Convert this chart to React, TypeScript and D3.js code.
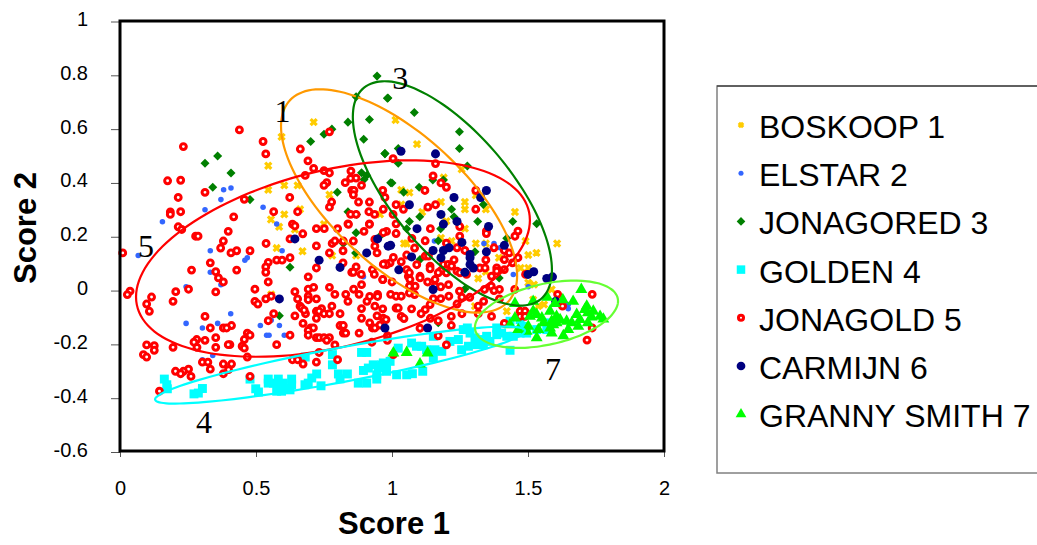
import * as d3 from "d3";
import { useEffect, useRef } from "react";

type P = [number, number];

const xTicks = [0, 0.5, 1, 1.5, 2];
const yTicks = [-0.6, -0.4, -0.2, 0, 0.2, 0.4, 0.6, 0.8, 1];

const boskoop: P[] = [
  [0.712, 0.626], [0.594, 0.571], [0.545, 0.464], [0.545, 0.374], [0.604, 0.391], [0.653, 0.391], [0.77, 0.356],
  [0.662, 0.302], [0.604, 0.283], [0.555, 0.264], [0.585, 0.237], [0.75, 0.247], [0.956, 0.283],
  [1.013, 0.634], [1.092, 0.544], [1.19, 0.42], [1.034, 0.374], [1.064, 0.364], [1.256, 0.451], [1.308, 0.354],
  [1.18, 0.329], [1.268, 0.329], [1.268, 0.302], [1.345, 0.302], [1.452, 0.292], [1.111, 0.292], [1.2, 0.258],
  [1.268, 0.23], [1.219, 0.184], [1.044, 0.175], [1.054, 0.175], [1.18, 0.196], [1.308, 0.175], [1.345, 0.175],
  [1.491, 0.184], [1.607, 0.175], [1.531, 0.14], [1.501, 0.132], [1.393, 0.122], [1.473, 0.084], [1.501, 0.084],
  [1.317, 0.045], [1.345, 0.07], [1.034, 0.32], [0.576, 0.158], [0.671, 0.146], [0.78, 0.13], [0.868, 0.13],
  [0.556, -0.014], [0.643, 0.227], [1.501, 0.029], [1.522, 0.022], [1.587, 0.004], [1.538, -0.058], [1.559, -0.052],
  [1.422, -0.077], [1.305, -0.058], [1.519, -0.034],
];

const elstar: P[] = [
  [0.381, 0.375], [0.408, 0.381], [0.371, 0.338], [0.3125, 0.3], [0.156, 0.256], [0.526, 0.31], [0.576, 0.247],
  [0.332, 0.148], [0.067, 0.13], [0.596, 0.148], [0.459, 0.113], [0.468, 0.122], [0.332, 0.068], [0.362, 0.053],
  [0.371, 0.022], [0.243, 0.014], [0.407, -0.086], [0.243, -0.122], [0.359, -0.122], [0.303, -0.139], [0.516, -0.13],
  [0.556, -0.11], [0.586, -0.13], [0.539, -0.166], [0.548, -0.166], [0.604, -0.166], [0.341, -0.241], [0.303, -0.257],
  [0.722, 0.084], [0.895, 0.051], [1.338, 0.175], [1.375, 0.175], [1.397, 0.159], [1.446, 0.06], [1.156, 0.184],
  [1.501, 0.014], [1.648, -0.052], [1.648, -0.068],
];

const jonagored: P[] = [
  [0.945, 0.797], [0.868, 0.72], [0.983, 0.715], [0.838, 0.626], [0.917, 0.636], [0.779, 0.6], [0.75, 0.581],
  [0.701, 0.554], [0.896, 0.562], [0.974, 0.509], [0.3125, 0.473], [0.359, 0.5], [0.408, 0.437], [0.341, 0.384],
  [0.478, 0.338], [0.799, 0.365], [0.888, 0.438], [0.907, 0.428], [0.897, 0.413], [1.0, 0.4], [0.838, 0.293], [0.87, 0.283],
  [0.985, 0.716], [1.082, 0.662], [1.248, 0.59], [1.248, 0.528], [1.277, 0.463], [0.974, 0.509], [1.023, 0.528],
  [1.023, 0.473], [0.995, 0.401], [1.043, 0.365], [1.1, 0.384], [1.15, 0.411], [1.189, 0.411], [1.336, 0.32],
  [1.219, 0.302], [1.102, 0.274], [1.064, 0.257], [1.228, 0.274], [1.315, 0.257], [1.444, 0.257], [1.532, 0.248],
  [1.054, 0.23], [1.179, 0.23], [1.17, 0.185], [1.422, 0.194], [1.305, 0.144], [1.103, 0.115], [1.413, 0.115],
  [1.394, 0.047], [0.625, 0.087], [0.586, -0.094], [0.866, 0.14], [0.821, 0.175], [0.868, 0.215], [0.962, 0.208],
  [1.268, 0.006], [1.17, -0.12],
];

const golden: P[] = [
  [0.163, -0.329], [0.172, -0.35], [0.174, -0.365], [0.272, -0.384], [0.288, -0.381], [0.303, -0.364], [0.478, -0.329],
  [0.499, -0.365], [0.509, -0.377], [0.545, -0.329], [0.545, -0.344], [0.564, -0.344], [0.582, -0.329], [0.582, -0.35],
  [0.576, -0.374], [0.6, -0.344], [0.594, -0.374], [0.613, -0.363], [0.631, -0.329], [0.631, -0.35], [0.625, -0.369],
  [0.68, -0.35], [0.692, -0.344], [0.705, -0.325], [0.723, -0.31], [0.739, -0.354], [0.803, -0.31], [0.809, -0.328],
  [0.836, -0.31], [0.876, -0.344], [0.907, -0.344], [0.895, -0.297], [0.913, -0.288], [0.931, -0.276], [0.95, -0.288],
  [0.944, -0.313], [0.944, -0.329], [0.968, -0.269], [0.98, -0.288], [0.681, -0.247], [0.781, -0.238], [0.781, -0.276],
  [0.888, -0.23], [0.907, -0.23], [0.962, -0.276], [0.993, -0.263], [0.98, -0.3], [1.017, -0.313], [1.054, -0.313],
  [1.075, -0.309], [1.113, -0.3], [1.023, -0.214], [1.072, -0.195], [1.09, -0.207], [1.109, -0.207], [1.127, -0.22],
  [1.14, -0.226], [1.158, -0.22], [1.183, -0.226], [1.152, -0.251], [1.213, -0.189], [1.244, -0.182], [1.256, -0.22],
  [1.281, -0.207], [1.311, -0.201], [1.336, -0.201], [1.277, -0.139], [1.287, -0.158], [1.305, -0.176], [1.323, -0.182],
  [1.348, -0.17], [1.36, -0.189], [1.385, -0.139], [1.385, -0.164], [1.403, -0.158], [1.422, -0.17], [1.446, -0.17],
  [1.471, -0.158], [1.434, -0.222], [1.434, -0.114], [1.483, -0.133], [1.495, -0.158], [1.471, -0.108], [1.532, -0.145],
  [1.569, -0.145], [1.581, -0.12], [1.152, -0.17], [1.262, -0.145], [0.956, -0.283],
];

const jonagold: P[] = [
  [0.439, 0.597], [0.233, 0.535], [0.526, 0.554], [0.536, 0.508], [0.663, 0.526], [0.691, 0.482], [0.712, 0.454],
  [0.681, 0.428], [0.75, 0.446], [0.77, 0.437], [0.77, 0.59], [0.175, 0.408], [0.223, 0.41], [0.3125, 0.365],
  [0.214, 0.346], [0.457, 0.339], [0.624, 0.346], [0.185, 0.292], [0.185, 0.283], [0.223, 0.293], [0.418, 0.274],
  [0.565, 0.293], [0.653, 0.293], [0.214, 0.237], [0.634, 0.247], [0.643, 0.24], [0.849, 0.444], [0.828, 0.401],
  [0.848, 0.417], [0.868, 0.418], [0.888, 0.391], [0.76, 0.401], [0.75, 0.391], [0.852, 0.372], [0.86, 0.372],
  [0.858, 0.356], [0.778, 0.329], [0.77, 0.31], [0.877, 0.329], [0.917, 0.329], [0.915, 0.293], [0.936, 0.283],
  [0.848, 0.283], [0.868, 0.283], [0.838, 0.248], [0.917, 0.248], [0.966, 0.372], [0.974, 0.346],
  [0.01, 0.14], [0.227, 0.227], [0.278, 0.202], [0.287, 0.202], [0.398, 0.22], [0.38, 0.184], [0.37, 0.158],
  [0.408, 0.14], [0.429, 0.148], [0.478, 0.148], [0.332, 0.103], [0.263, 0.076], [0.429, 0.076], [0.352, 0.07],
  [0.362, 0.047], [0.38, 0.032], [0.352, -0.005], [0.252, 0.005], [0.205, -0.004], [0.195, -0.04], [0.116, -0.024],
  [0.098, -0.05], [0.108, -0.077], [0.037, -0.002], [0.027, -0.015], [0.537, 0.175], [0.545, 0.105], [0.536, 0.088],
  [0.536, 0.068], [0.576, 0.113], [0.596, 0.113], [0.625, 0.122], [0.545, 0.032], [0.496, 0.005], [0.496, -0.04],
  [0.507, -0.05], [0.536, -0.031], [0.556, -0.021], [0.565, -0.086], [0.545, -0.112], [0.3125, -0.096], [0.332, -0.139],
  [0.41, -0.13], [0.38, -0.139], [0.392, -0.139], [0.468, -0.158], [0.478, -0.166], [0.457, -0.182], [0.449, -0.207],
  [0.457, -0.214], [0.404, -0.201], [0.398, -0.201], [0.352, -0.175], [0.352, -0.211], [0.3125, -0.185], [0.282, -0.182],
  [0.272, -0.192], [0.283, -0.211], [0.195, -0.211], [0.126, -0.205], [0.126, -0.222], [0.098, -0.202], [0.086, -0.238],
  [0.098, -0.247], [0.468, -0.247], [0.303, -0.266], [0.323, -0.266], [0.332, -0.292], [0.38, -0.273], [0.41, -0.273],
  [0.399, -0.294], [0.38, -0.309], [0.252, -0.292], [0.233, -0.3], [0.204, -0.3], [0.223, -0.309], [0.261, -0.319],
  [0.145, -0.374], [0.478, -0.319], [0.576, -0.201], [0.625, -0.166], [0.634, -0.257], [0.653, -0.257], [0.673, -0.273],
  [0.722, -0.266], [0.732, -0.23], [0.8, -0.257], [0.79, -0.202], [0.926, -0.192], [0.879, -0.158], [0.643, -0.094],
  [0.673, -0.122], [0.682, -0.086], [0.662, -0.058], [0.668, -0.065], [0.677, -0.073], [0.653, -0.031], [0.643, -0.004],
  [0.692, -0.021], [0.692, -0.034], [0.692, 0.005], [0.712, 0.012], [0.722, -0.031], [0.77, 0.012], [0.79, -0.014],
  [0.83, -0.014], [0.838, -0.04], [0.859, 0.005], [0.879, -0.014], [0.888, 0.022], [0.908, -0.04], [0.918, -0.022],
  [0.947, -0.014], [0.947, -0.022], [0.937, -0.058], [0.888, -0.067], [0.888, -0.103], [0.918, -0.12], [0.945, -0.094],
  [0.968, -0.103], [0.978, -0.108], [0.928, -0.139], [0.937, -0.139], [0.956, -0.128], [0.722, -0.103], [0.722, -0.077],
  [0.741, -0.067], [0.732, -0.077], [0.75, -0.086], [0.77, -0.086], [0.779, -0.058], [0.809, -0.086], [0.701, -0.139],
  [0.711, -0.139], [0.692, -0.148], [0.692, -0.166], [0.722, -0.175], [0.733, -0.175], [0.75, -0.175], [0.77, -0.175],
  [0.76, -0.185], [0.809, -0.13], [0.821, -0.13], [0.821, -0.158], [0.83, -0.158], [0.692, 0.051], [0.722, 0.084],
  [0.722, 0.166], [0.77, 0.14], [0.78, 0.175], [0.79, 0.184], [0.821, 0.184], [0.82, 0.148], [0.82, 0.103], [0.84, 0.246],
  [0.722, 0.23], [0.751, 0.23], [0.672, 0.211], [0.625, 0.192], [0.8, 0.23], [0.897, 0.22], [0.917, 0.246], [0.858, 0.184],
  [0.945, 0.14], [0.928, 0.078], [0.935, 0.06], [0.887, 0.06], [0.868, 0.088], [0.852, 0.068], [0.858, 0.068],
  [0.966, 0.041], [0.937, 0.19], [0.937, 0.165], [0.974, 0.1],
  [1.004, 0.49], [1.16, 0.472], [1.151, 0.426], [1.18, 0.4], [1.2, 0.384], [1.121, 0.372], [1.308, 0.372], [1.015, 0.319],
  [1.042, 0.302], [1.132, 0.31], [1.16, 0.319], [1.308, 0.302], [1.004, 0.283], [0.968, 0.302], [1.015, 0.248],
  [1.141, 0.23], [1.015, 0.212], [0.98, 0.22], [0.968, 0.215], [1.249, 0.238], [1.249, 0.202], [1.347, 0.221],
  [1.347, 0.212], [1.463, 0.221], [1.452, 0.202], [1.073, 0.194], [1.122, 0.185], [1.083, 0.158], [1.2, 0.176],
  [1.239, 0.159], [1.268, 0.149], [1.375, 0.159], [1.413, 0.149], [1.431, 0.14], [1.054, 0.132], [1.005, 0.123],
  [1.034, 0.107], [0.993, 0.103], [0.98, 0.096], [0.968, 0.098], [1.054, 0.078], [1.091, 0.096], [1.122, 0.128],
  [1.134, 0.128], [1.228, 0.114], [1.189, 0.097], [1.207, 0.097], [1.219, 0.091], [1.14, 0.091], [1.14, 0.081],
  [1.18, 0.074], [1.2, 0.066], [1.239, 0.072], [1.25, 0.066], [1.274, 0.06], [1.345, 0.114], [1.385, 0.084], [1.385, 0.072],
  [1.413, 0.078], [1.413, 0.115], [1.443, 0.103], [1.463, 0.122], [1.491, 0.06], [1.366, 0.053], [1.06, 0.053],
  [1.103, 0.053], [1.323, 0.084], [1.342, 0.084],
  [0.966, 0.041], [1.0, 0.032], [1.064, 0.066], [1.103, 0.047], [1.066, 0.041], [1.085, 0.016], [1.064, 0.016],
  [1.131, 0.032], [1.17, 0.066], [1.158, 0.041], [1.158, 0.016], [1.179, 0.014], [1.208, 0.022], [1.248, -0.002],
  [1.209, -0.021], [1.179, -0.03], [1.152, -0.03], [1.083, -0.015], [1.064, -0.009], [0.995, -0.014], [1.015, -0.021],
  [1.034, -0.021], [1.015, -0.065], [1.023, -0.065], [0.966, -0.068], [1.072, -0.068], [1.034, -0.096], [1.044, -0.104],
  [1.14, -0.052], [1.122, -0.071], [1.107, -0.086], [1.141, -0.103], [1.17, -0.112], [1.218, -0.096], [1.218, -0.13],
  [1.103, -0.14], [1.257, -0.086], [1.239, -0.05], [1.317, -0.058], [1.317, -0.086], [1.337, -0.04], [1.366, -0.096],
  [1.395, 0.004], [1.395, -0.031], [1.34, 0.004], [1.365, 0.016], [1.375, 0], [1.286, -0.025], [1.257, -0.025],
  [1.451, 0.004], [1.471, -0.077], [1.489, -0.077], [1.471, -0.096], [1.489, -0.096], [1.413, -0.122], [1.609, -0.014],
  [1.627, -0.058], [1.736, -0.014], [1.736, -0.139], [1.717, -0.184], [1.17, -0.168], [1.2, -0.202], [1.005, -0.238],
  [0.983, -0.168], [0.983, -0.185],
];

const carmijn: P[] = [
  [1.033, 0.518], [1.16, 0.508], [1.347, 0.372], [1.326, 0.346], [1.228, 0.346], [1.064, 0.319], [1.18, 0.283],
  [1.239, 0.257], [1.189, 0.247], [1.355, 0.238], [1.092, 0.23], [0.995, 0.168], [1.151, 0.149], [1.189, 0.149],
  [1.21, 0.159], [1.257, 0.179], [1.413, 0.168], [1.347, 0.144], [1.287, 0.134], [1.287, 0.122], [1.072, 0.125],
  [1.18, 0.122], [1.287, 0.097], [1.299, 0.084], [1.268, 0.068], [1.025, 0.077], [1.5, 0.06], [1.521, 0.07],
  [1.569, 0.045], [1.59, 0.051], [1.151, 0.004], [0.974, -0.139], [1.131, -0.139], [1.602, -0.04], [0.643, 0.192],
  [0.732, 0.113], [0.809, 0.086], [0.907, 0.14], [0.947, 0.192], [0.986, 0.165], [0.586, -0.031],
];

const grannySmith: P[] = [
  [1.696, 0.004], [1.452, -0.048], [1.519, -0.04], [1.571, -0.025], [1.599, -0.048], [1.628, -0.034], [1.666, -0.04],
  [1.716, -0.058], [1.581, -0.077], [1.519, -0.077], [1.532, -0.089], [1.507, -0.096], [1.551, -0.102], [1.557, -0.12],
  [1.452, -0.102], [1.434, -0.127], [1.464, -0.145], [1.501, -0.133], [1.495, -0.151], [1.538, -0.145], [1.532, -0.176],
  [1.587, -0.114], [1.605, -0.096], [1.618, -0.108], [1.581, -0.139], [1.593, -0.127], [1.605, -0.12], [1.587, -0.158],
  [1.642, -0.114], [1.661, -0.12], [1.648, -0.145], [1.63, -0.168], [1.679, -0.089], [1.691, -0.108], [1.685, -0.133],
  [1.709, -0.071], [1.72, -0.083], [1.74, -0.077], [1.734, -0.098], [1.765, -0.096], [1.777, -0.106], [1.72, -0.12],
  [1.005, -0.232], [1.054, -0.23], [1.131, -0.232], [1.103, -0.273],
];

// ellipses drawn around each cultivar: centre and half extents in score units, phase is the tilt
const ellipses = [
  { cx: 1.026, cy: 0.333, hw: 0.434, hh: 0.415, phase: 48, color: "#ff9900" },
  { cx: 1.222, cy: 0.361, hw: 0.366, hh: 0.417, phase: 47, color: "#008000" },
  { cx: 0.783, cy: 0.119, hw: 0.724, hh: 0.365, phase: 113, color: "#ff0000" },
  { cx: 0.809, cy: -0.277, hw: 0.68, hh: 0.143, phase: 153, color: "#00ffff" },
  { cx: 1.568, cy: -0.088, hw: 0.263, hh: 0.125, phase: 113, color: "#66ff33" },
];

const groupNumbers: [string, number, number][] = [
  ["1", 0.597, 0.626],
  ["3", 1.03, 0.749],
  ["5", 0.096, 0.123],
  ["4", 0.309, -0.529],
  ["7", 1.592, -0.331],
];

const legendNames = ["BOSKOOP 1", "ELSTAR 2", "JONAGORED 3", "GOLDEN 4", "JONAGOLD 5", "CARMIJN 6", "GRANNY SMITH 7"];

const W = 1037;
const H = 545;
const plot = { left: 120, right: 664, top: 21, bottom: 451 };
const sansFont = "'Liberation Sans', Arial, sans-serif";

const x = d3.scaleLinear().domain([0, 2]).range([plot.left, plot.right]);
const y = d3.scaleLinear().domain([-0.6, 1]).range([plot.bottom + 1, plot.top + 0.5]);

// one drawn marker per series, same order as the legend
const markers = [
  { data: boskoop, type: d3.symbolTimes, size: 26, legendSize: 14, fill: "none", stroke: "#ffcc00", strokeWidth: 3.2 },
  { data: elstar, type: d3.symbolCircle, size: 24, legendSize: 20, fill: "#3366ff", stroke: "none", strokeWidth: 0 },
  { data: jonagored, type: d3.symbolDiamond2, size: 52, legendSize: 48, fill: "#008000", stroke: "none", strokeWidth: 0 },
  { data: golden, type: d3.symbolSquare, size: 80, legendSize: 72, fill: "#00ffff", stroke: "none", strokeWidth: 0 },
  { data: jonagold, type: d3.symbolCircle, size: 27, legendSize: 20, fill: "#ffffff", stroke: "#ff0000", strokeWidth: 3 },
  { data: carmijn, type: d3.symbolCircle, size: 64, legendSize: 60, fill: "#000080", stroke: "none", strokeWidth: 0 },
  { data: grannySmith, type: d3.symbolTriangle, size: 62, legendSize: 50, fill: "#00ff00", stroke: "none", strokeWidth: 0 },
];

const ellipsePoints = (e: (typeof ellipses)[number]): P[] => {
  const phase = (e.phase * Math.PI) / 180;
  return d3.range(0, 2 * Math.PI, Math.PI / 36).map((t) => [e.cx + e.hw * Math.cos(t), e.cy - e.hh * Math.cos(t - phase)] as P);
};

export default function App() {
  const xAxisRef = useRef<SVGGElement>(null);
  const yAxisRef = useRef<SVGGElement>(null);

  useEffect(() => {
    const xAxis = d3.axisBottom(x).tickValues(xTicks).tickSize(6).tickPadding(24).tickFormat((d) => String(d));
    const yAxis = d3.axisLeft(y).tickValues(yTicks).tickSize(9).tickPadding(23).tickFormat((d) => String(d));
    const gx = d3.select(xAxisRef.current!).call(xAxis as any);
    const gy = d3.select(yAxisRef.current!).call(yAxis as any);
    [gx, gy].forEach((g) => {
      g.select(".domain").remove();
      g.selectAll("text").attr("font-size", 20).attr("font-family", sansFont).attr("fill", "#000");
      g.selectAll("line").attr("stroke", "#555").attr("stroke-width", 1);
    });
    gy.selectAll("text").attr("dy", "0.2em");
  }, []);

  const ellipseLine = d3
    .line<P>()
    .x((d) => x(d[0]))
    .y((d) => y(d[1]))
    .curve(d3.curveCatmullRomClosed);

  return (
    <svg width={W} height={H} style={{ position: "absolute", left: 0, top: 0, background: "#fff" }}>
      <g ref={yAxisRef} transform={`translate(${plot.left},0)`} />
      <g ref={xAxisRef} transform={`translate(0,${plot.bottom})`} />

      {markers.map((m, i) => (
        <g key={i}>
          {m.data.map((d, j) => (
            <path
              key={j}
              transform={`translate(${x(d[0])},${y(d[1])})`}
              d={d3.symbol().type(m.type).size(m.size)() as string}
              fill={m.fill}
              stroke={m.stroke}
              strokeWidth={m.strokeWidth}
            />
          ))}
        </g>
      ))}

      {ellipses.map((e, i) => (
        <path key={i} d={ellipseLine(ellipsePoints(e)) as string} fill="none" stroke={e.color} strokeWidth={2.2} />
      ))}

      <rect
        x={plot.left}
        y={plot.top}
        width={plot.right - plot.left}
        height={plot.bottom - plot.top}
        fill="none"
        stroke="#000"
        strokeWidth={3}
      />

      {groupNumbers.map(([label, vx, vy]) => (
        <text key={label} x={x(vx)} y={y(vy)} fontFamily="'Liberation Serif', serif" fontSize={32} textAnchor="middle">
          {label}
        </text>
      ))}

      <text x={394} y={534} fontFamily={sansFont} fontWeight="bold" fontSize={31} textAnchor="middle">
        Score 1
      </text>
      <text
        transform="translate(36,228) rotate(-90)"
        fontFamily={sansFont}
        fontWeight="bold"
        fontSize={31}
        textAnchor="middle"
      >
        Score 2
      </text>

      <rect x={717} y={86} width={330} height={387} fill="#fff" stroke="#808080" strokeWidth={1.5} />
      <line x1={717} x2={1037} y1={86} y2={86} stroke="#222" strokeWidth={1} />
      {legendNames.map((name, i) => {
        const m = markers[i];
        const rowY = 127 + i * 48.2;
        return (
          <g key={name}>
            <path
              transform={`translate(741,${rowY - 2})`}
              d={d3.symbol().type(m.type).size(m.legendSize)() as string}
              fill={m.fill}
              stroke={m.stroke}
              strokeWidth={m.strokeWidth}
            />
            <text x={759} y={rowY + 11} fontFamily={sansFont} fontSize={32}>
              {name}
            </text>
          </g>
        );
      })}
    </svg>
  );
}
